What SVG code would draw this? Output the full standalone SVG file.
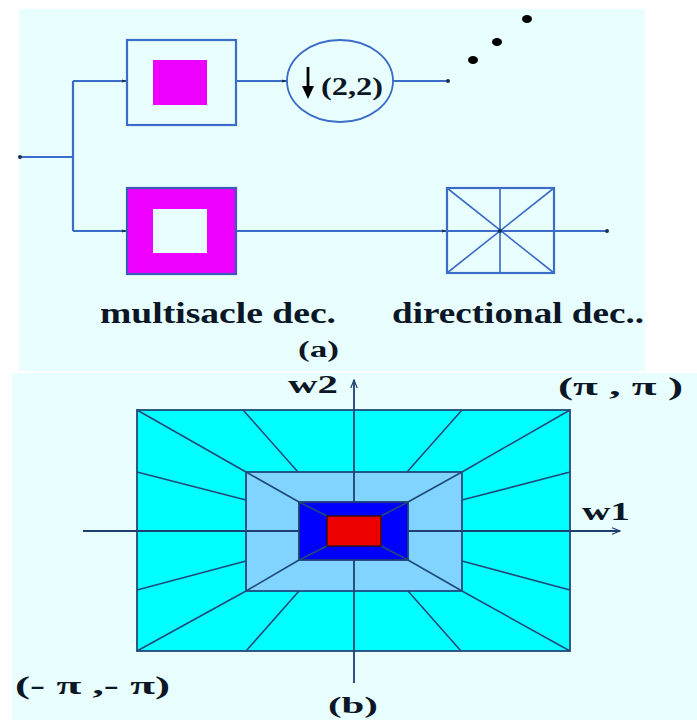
<svg xmlns="http://www.w3.org/2000/svg" width="697" height="720" viewBox="0 0 697 720">
<style>
.bg{fill:#E9FFFF}
.wire{stroke:#3A6CC8;stroke-width:2.2;fill:none}
.thin{stroke:#3A6CC8;stroke-width:1.6;fill:none}
.ln{stroke:#1F4A7A;stroke-width:1.6;fill:none}
.ax{stroke:#1F3F70;stroke-width:1.8;fill:none}
.t{font-family:"Liberation Serif","Times New Roman",serif;font-weight:bold;fill:#0B1626}
</style>
<defs>
<marker id="arr" viewBox="0 0 10 10" refX="10" refY="5" markerWidth="5" markerHeight="5" orient="auto" markerUnits="userSpaceOnUse">
<path d="M0,2 L10,5 L0,8 z" fill="#1A2F55"/>
</marker>
<marker id="axarr" viewBox="0 0 10 10" refX="10" refY="5" markerWidth="10" markerHeight="8" orient="auto" markerUnits="userSpaceOnUse">
<path d="M0,1 L10,5 L0,9" fill="none" stroke="#1F3F70" stroke-width="1.5"/>
</marker>
</defs>
<rect width="697" height="720" fill="#FFFFFF"/>
<rect class="bg" x="19" y="9" width="626" height="362"/>
<rect class="bg" x="12" y="373" width="685" height="347"/>

<g id="connectors">
<path class="wire" d="M19,157 H73"/>
<path class="wire" d="M73,81 V231"/>
<path class="wire" d="M73,81 H127" marker-end="url(#arr)"/>
<path class="wire" d="M73,231 H127" marker-end="url(#arr)"/>
<path class="wire" d="M236,81 H287" marker-end="url(#arr)"/>
<path class="wire" d="M393,81 H448"/>
<circle cx="448" cy="81" r="2" fill="#1A2F55"/>
<path class="wire" d="M236,231 H447" marker-end="url(#arr)"/>
<path class="wire" d="M447,231 H607"/>
<circle cx="607" cy="231" r="2" fill="#1A2F55"/>
<circle cx="20" cy="157" r="2" fill="#1A2F55"/>
</g>

<g id="lowpass">
<rect x="127" y="40" width="109" height="85" fill="#E9FFFF" stroke="#3A6CC8" stroke-width="2.2"/>
<rect x="153" y="60" width="54" height="45" fill="#EE00FF"/>
</g>

<g id="highpass">
<rect x="127" y="188" width="109" height="86" fill="#EE00FF" stroke="#3A5CB8" stroke-width="2.2"/>
<rect x="153" y="209" width="54" height="44" fill="#E9FFFF"/>
</g>

<g id="downsample">
<ellipse cx="340" cy="81" rx="53" ry="41" fill="#E9FFFF" stroke="#3A6CC8" stroke-width="1.8"/>
<path d="M308,67 V89" stroke="#000" stroke-width="2.8"/>
<path d="M302,86 L314,86 L308,99 z" fill="#000"/>
<text class="t" x="321" y="95" font-size="26" textLength="62" lengthAdjust="spacingAndGlyphs">(2,2)</text>
</g>

<g id="dots">
<ellipse cx="473" cy="60" rx="5" ry="4" fill="#000"/>
<ellipse cx="497" cy="42" rx="5" ry="4" fill="#000"/>
<ellipse cx="527" cy="19" rx="5" ry="4" fill="#000"/>
</g>

<g id="directional">
<rect x="447" y="188" width="107" height="85" fill="none" stroke="#3A6CC8" stroke-width="2.2"/>
<path class="thin" d="M500,188 V273 M447,188 L554,273 M554,188 L447,273"/>
<circle cx="500" cy="231" r="2" fill="#1A2F55"/>
</g>

<g id="labels-a">
<text class="t" x="100" y="323" font-size="29" textLength="236" lengthAdjust="spacingAndGlyphs">multisacle dec.</text>
<text class="t" x="392" y="323" font-size="29" textLength="252" lengthAdjust="spacingAndGlyphs">directional dec..</text>
<text class="t" x="298" y="357" font-size="24" textLength="41" lengthAdjust="spacingAndGlyphs">(a)</text>
</g>

<g id="spectrum">
<rect x="137" y="410" width="433" height="241" fill="#00FFFF" stroke="#1F4A7A" stroke-width="1.8"/>
<path class="ln" d="M137,410 L246,472 M570,410 L462,472 M137,651 L246,591 M570,651 L462,591
M243,410 L298,472 M462,410 L407,472 M246,651 L299,591 M461,651 L408,591
M137,472 L246,500 M570,472 L462,500 M137,590 L246,561 M570,590 L462,561"/>
<rect x="246" y="472" width="216" height="119" fill="#80D4FF" stroke="#1F4A7A" stroke-width="1.8"/>
<path class="ln" d="M246,472 L299,502 M462,472 L408,502 M246,591 L299,560 M462,591 L408,560"/>
<path class="ax" d="M83,531 H620" marker-end="url(#axarr)"/>
<path class="ax" d="M354,683 V380" marker-end="url(#axarr)"/>
<rect x="299" y="502" width="109" height="58" fill="#0000FF" stroke="#1F3F70" stroke-width="1.8"/>
<path class="ln" d="M299,502 L327,516 M408,502 L381,516 M299,560 L327,546 M408,560 L381,546"/>
<rect x="327" y="516" width="54" height="30" fill="#EE0000" stroke="#3A1010" stroke-width="1.5"/>
</g>

<g id="labels-b">
<text class="t" x="288" y="393" font-size="25" textLength="50" lengthAdjust="spacingAndGlyphs">w2</text>
<text class="t" x="582" y="520" font-size="25" textLength="48" lengthAdjust="spacingAndGlyphs">w1</text>
<text class="t" x="558" y="395" font-size="25" textLength="125" lengthAdjust="spacingAndGlyphs">(π , π )</text>
<text class="t" x="15" y="694" font-size="25" textLength="155" lengthAdjust="spacingAndGlyphs">(- π ,- π)</text>
<text class="t" x="328" y="713" font-size="24" textLength="50" lengthAdjust="spacingAndGlyphs">(b)</text>
</g>
</svg>
